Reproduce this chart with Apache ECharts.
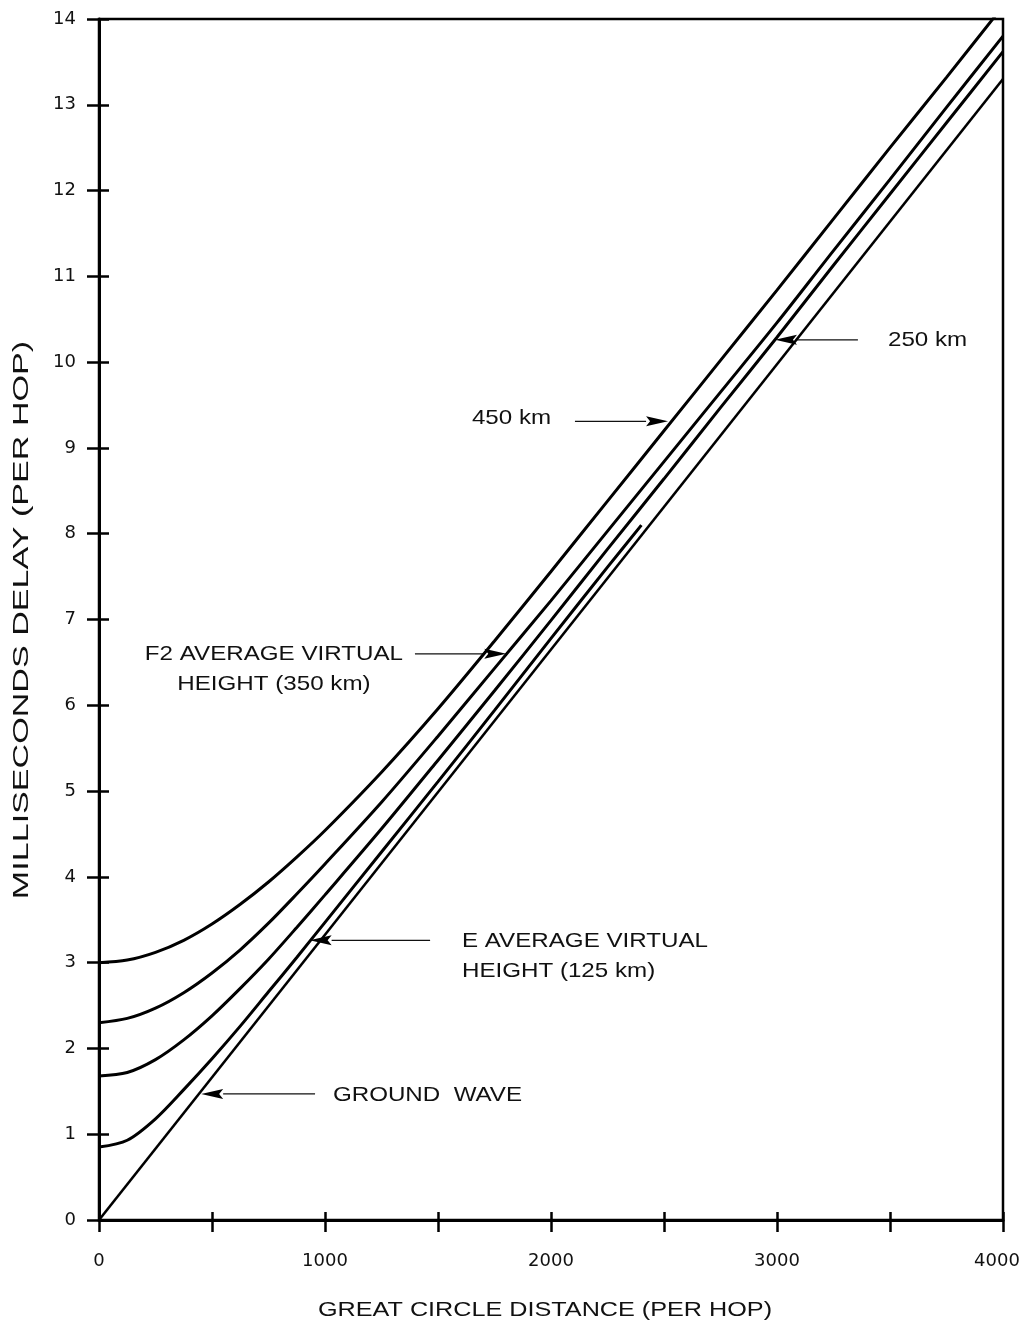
<!DOCTYPE html>
<html>
<head>
<meta charset="utf-8">
<script src="https://cdn.jsdelivr.net/npm/echarts@6/dist/echarts.min.js"></script>
<style>
html,body{margin:0;padding:0;background:#fff;}
#c{width:1023px;height:1326px;}
</style>
</head>
<body>
<div id="c"></div>
<script>
// ---- data ----
const distance   = [0, 125, 250, 375, 500, 625, 750, 875, 1000, 1250, 1500, 1750, 2000, 2250, 2500, 2750, 3000, 3250, 3500, 3750, 4000];
const delay450   = [3.0, 3.03, 3.12, 3.26, 3.45, 3.68, 3.94, 4.23, 4.54, 5.22, 5.96, 6.75, 7.56, 8.38, 9.2, 10.02, 10.84, 11.67, 12.5, 13.32, 14.15];
const delay350   = [2.3, 2.35, 2.47, 2.65, 2.88, 3.15, 3.46, 3.8, 4.15, 4.87, 5.64, 6.43, 7.22, 8.03, 8.84, 9.65, 10.46, 11.3, 12.13, 12.97, 13.8];
const delay250   = [1.68, 1.72, 1.87, 2.1, 2.38, 2.7, 3.04, 3.41, 3.79, 4.56, 5.36, 6.17, 6.99, 7.82, 8.64, 9.47, 10.29, 11.13, 11.96, 12.79, 13.62];
const eDistance  = [0, 125, 250, 375, 500, 625, 750, 875, 1000, 1250, 1500, 1750, 2000, 2250, 2400];
const delayE125  = [0.85, 0.93, 1.18, 1.52, 1.88, 2.26, 2.66, 3.06, 3.47, 4.29, 5.11, 5.94, 6.78, 7.61, 8.1];
const groundDistance = [0, 4000];
const delayGround    = [0, 13.3];
const xLabelValues = [0, 1000, 2000, 3000, 4000];

const noteTexts = [
  ['450 km'],
  ['250 km'],
  ['F2 AVERAGE VIRTUAL', 'HEIGHT (350 km)'],
  ['E AVERAGE VIRTUAL', 'HEIGHT (125 km)'],
  ['GROUND  WAVE']
];
// annotation anchors in data space (distance, delay)
const noteAnchors = [[1650, 9.35], [3491, 10.25], [774, 6.59], [1606, 3.25], [1035, 1.45]];
const noteAlign   = ['left', 'left', 'center', 'left', 'left'];
const arrowFrom   = [[2106, 9.31], [3358, 10.26], [1398, 6.6], [1465, 3.26], [956, 1.47]];
const arrowTo     = [[2518, 9.31], [2991, 10.26], [1802, 6.6], [932, 3.26], [452, 1.47]];

const zip = (xs, ys) => xs.map((x, i) => [x, ys[i]]);

const chart = echarts.init(document.getElementById('c'), null, {renderer: 'canvas'});

function lineSeries(xs, ys, w) {
  return {
    type: 'line', data: zip(xs, ys), smooth: 0.3, showSymbol: false, symbol: 'none',
    clip: true, silent: true, lineStyle: {color: '#000', width: w}, xAxisIndex: 0, yAxisIndex: 0,
    animation: false
  };
}

const tickStyle = {color: '#000', width: 2.5};
const labelFont = {fontFamily: 'DejaVu Sans', fontSize: 18, color: '#111'};
const xMax = xLabelValues[xLabelValues.length - 1];

chart.setOption({
  animation: false,
  backgroundColor: '#fff',
  grid: {left: 99, right: 20, top: 19, bottom: 106, containLabel: false, outerBoundsMode: 'none',
         show: true, borderColor: '#000', borderWidth: 2.5},
  xAxis: [
    {type: 'value', min: 0, max: 4000, interval: 500,
     axisLine: {show: true, onZero: false, lineStyle: {color: '#000', width: 3}},
     axisTick: {show: true, length: 12, lineStyle: tickStyle},
     axisLabel: Object.assign({
       margin: 32,
       formatter: v => v === xMax ? '{m|' + v + '}' : (xLabelValues.includes(v) ? String(v) : ''),
       rich: {m: {fontFamily: 'DejaVu Sans', fontSize: 18, color: '#111', padding: [0, 12, 0, 0]}}
     }, labelFont),
     splitLine: {show: false}},
    {type: 'value', min: 0, max: 4000, interval: 500, position: 'bottom',
     axisLine: {show: false, onZero: false},
     axisTick: {show: true, inside: true, length: 8, lineStyle: tickStyle},
     axisLabel: {show: false}, splitLine: {show: false}}
  ],
  yAxis: [
    {type: 'value', min: 0, max: 14, interval: 1,
     axisLine: {show: true, onZero: false, lineStyle: {color: '#000', width: 3}},
     axisTick: {show: true, length: 12, lineStyle: tickStyle},
     axisLabel: Object.assign({margin: 23}, labelFont),
     splitLine: {show: false}},
    {type: 'value', min: 0, max: 14, interval: 1, position: 'left',
     axisLine: {show: false, onZero: false},
     axisTick: {show: true, inside: true, length: 10, lineStyle: tickStyle},
     axisLabel: {show: false}, splitLine: {show: false}}
  ],
  series: [
    lineSeries(distance, delay450, 3),
    lineSeries(distance, delay350, 3),
    lineSeries(distance, delay250, 3),
    lineSeries(eDistance, delayE125, 3),
    lineSeries(groundDistance, delayGround, 2.6)
  ]
});

// ---- annotations placed through the chart's own scales ----
const toPx = p => chart.convertToPixel({gridIndex: 0}, p);
const graphics = [];
const noteFont = '21px "Liberation Sans", Arial, sans-serif';
noteTexts.forEach((lines, i) => {
  const a = toPx(noteAnchors[i]);
  lines.forEach((t, j) => {
    graphics.push({
      type: 'text', x: a[0], y: a[1] + j * 30, scaleX: 1.15, silent: true,
      style: {text: t, font: noteFont, fill: '#111', textAlign: noteAlign[i], textVerticalAlign: 'middle'}
    });
  });
});
arrowFrom.forEach((f, i) => {
  const p0 = toPx(f), p1 = toPx(arrowTo[i]);
  const dx = p1[0] - p0[0], dy = p1[1] - p0[1];
  const L = Math.hypot(dx, dy), ux = dx / L, uy = dy / L;
  const hl = 22, hw = 5;
  const bx = p1[0] - ux * hl, by = p1[1] - uy * hl;
  graphics.push({type: 'line', silent: true, shape: {x1: p0[0], y1: p0[1], x2: bx, y2: by},
                 style: {stroke: '#111', lineWidth: 1.3}});
  graphics.push({type: 'polygon', silent: true,
                 shape: {points: [[p1[0], p1[1]], [bx - uy * hw, by + ux * hw], [bx + ux * 4, by + uy * 4], [bx + uy * hw, by - ux * hw]]},
                 style: {fill: '#000'}});
});
// axis titles
graphics.push({type: 'text', x: 545, y: 1310, scaleX: 1.2, silent: true,
  style: {text: 'GREAT CIRCLE DISTANCE (PER HOP)', font: '21px "Liberation Sans", Arial, sans-serif', fill: '#111',
          textAlign: 'center', textVerticalAlign: 'middle'}});
graphics.push({type: 'text', x: 22, y: 620, rotation: Math.PI / 2, scaleX: 1.55, silent: true,
  style: {text: 'MILLISECONDS DELAY (PER HOP)', font: '22px "Liberation Sans", Arial, sans-serif', fill: '#111',
          textAlign: 'center', textVerticalAlign: 'middle'}});

chart.setOption({graphic: graphics});
</script>
</body>
</html>
